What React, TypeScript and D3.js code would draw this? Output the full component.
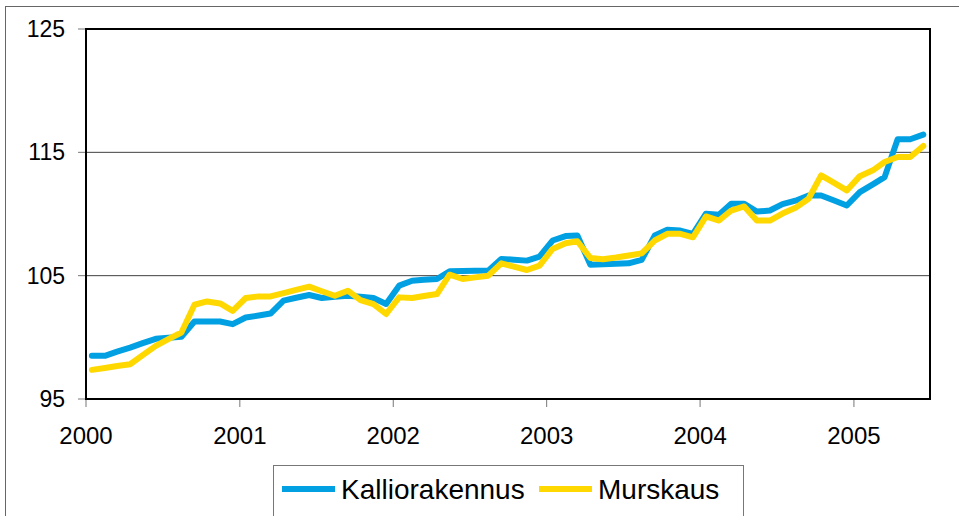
import * as d3 from "d3";

// monthly index values, Jan 2000 .. Jun 2005
const kalliorakennus = [
  98.5, 98.5, 98.84, 99.17, 99.53, 99.88, 99.96, 100.04, 101.28, 101.28, 101.28, 101.07,
  101.61, 101.77, 101.93, 102.97, 103.21, 103.43, 103.19, 103.29, 103.37, 103.29, 103.19, 102.7,
  104.19, 104.59, 104.66, 104.73, 105.35, 105.37, 105.39, 105.41, 106.36, 106.29, 106.22, 106.54,
  107.85, 108.21, 108.25, 105.89, 105.93, 105.97, 106.0, 106.28, 108.25, 108.72, 108.66, 108.39,
  110.02, 109.94, 110.83, 110.83, 110.2, 110.28, 110.8, 111.08, 111.5, 111.5, 111.1, 110.69,
  111.77, 112.4, 112.99, 116.06, 116.06, 116.44,
];
const murskaus = [
  97.36, 97.51, 97.67, 97.82, 98.56, 99.31, 99.85, 100.39, 102.64, 102.91, 102.75, 102.15,
  103.19, 103.32, 103.32, 103.58, 103.85, 104.11, 103.74, 103.37, 103.78, 103.02, 102.7, 101.89,
  103.24, 103.19, 103.35, 103.51, 105.08, 104.73, 104.86, 105.0, 106.0, 105.73, 105.46, 105.81,
  107.17, 107.63, 107.79, 106.44, 106.33, 106.47, 106.63, 106.81, 107.85, 108.39, 108.39, 108.11,
  109.8, 109.47, 110.28, 110.61, 109.47, 109.47, 110.04, 110.5, 111.24, 113.13, 112.52, 111.91,
  113.07, 113.54, 114.21, 114.62, 114.62, 115.51,
];
const seriesNames = ["Kalliorakennus", "Murskaus"];
const seriesColors = ["#00A0E3", "#FFD800"];
const yTicks = [95, 105, 115, 125];
const yearTicks = [2000, 2001, 2002, 2003, 2004, 2005];

const W = 959;
const H = 516;
const font = "'Liberation Sans', Arial, sans-serif";

export default function App() {
  const left = 86, right = 930, top = 29, bottom = 399;

  const x = d3
    .scaleTime()
    .domain([new Date(2000, 0, 1), new Date(2005, 6, 1)])
    .range([left, right]);
  const y = d3.scaleLinear().domain([95, 125]).range([bottom, top]);

  // points sit mid-month on the date axis
  const dateOf = (i: number) => new Date(2000, i, 15);

  const line = d3
    .line<number>()
    .x((_, i) => x(dateOf(i)))
    .y((d) => y(d));

  const series = [kalliorakennus, murskaus];

  return (
    <svg
      width={W}
      height={H}
      style={{ position: "absolute", left: 0, top: 0, background: "#fff" }}
      fontFamily={font}
    >
      {/* outer chart frame (runs off the page right/bottom) */}
      <rect x={5.5} y={6.5} width={1000} height={600} fill="none" stroke="#666" />

      {/* gridlines */}
      {yTicks.slice(1, 3).map((t) => (
        <line key={t} x1={left} x2={right} y1={y(t)} y2={y(t)} stroke="#404040" strokeWidth={1} />
      ))}

      {/* y ticks + labels */}
      {yTicks.map((t) => (
        <g key={t}>
          <line x1={left - 8} x2={left} y1={y(t)} y2={y(t)} stroke="#777" />
          <text x={65} y={y(t)} dy="0.35em" textAnchor="end" fontSize={23} fill="#000">
            {t}
          </text>
        </g>
      ))}

      {/* x ticks + labels */}
      {yearTicks.map((yr) => {
        const px = x(new Date(yr, 0, 1));
        return (
          <g key={yr}>
            <line x1={px} x2={px} y1={bottom} y2={bottom + 8} stroke="#777" />
            <text x={px} y={444} textAnchor="middle" fontSize={24} fill="#000">
              {yr}
            </text>
          </g>
        );
      })}

      {/* series */}
      {series.map((s, k) => (
        <path
          key={k}
          d={line(s) ?? ""}
          fill="none"
          stroke={seriesColors[k]}
          strokeWidth={6}
          strokeLinejoin="round"
          strokeLinecap="round"
        />
      ))}

      {/* plot frame */}
      <rect
        x={left}
        y={top}
        width={right - left}
        height={bottom - top}
        fill="none"
        stroke="#000"
        strokeWidth={2}
      />

      {/* legend */}
      <rect x={273.5} y={465.5} width={470} height={80} fill="#fff" stroke="#777" />
      {seriesNames.map((name, k) => {
        const lx = k === 0 ? 282 : 539;
        return (
          <g key={name}>
            <line x1={lx} x2={lx + 53} y1={489} y2={489} stroke={seriesColors[k]} strokeWidth={6} />
            <text x={lx + 59} y={499} fontSize={28} fill="#000">
              {name}
            </text>
          </g>
        );
      })}
    </svg>
  );
}
